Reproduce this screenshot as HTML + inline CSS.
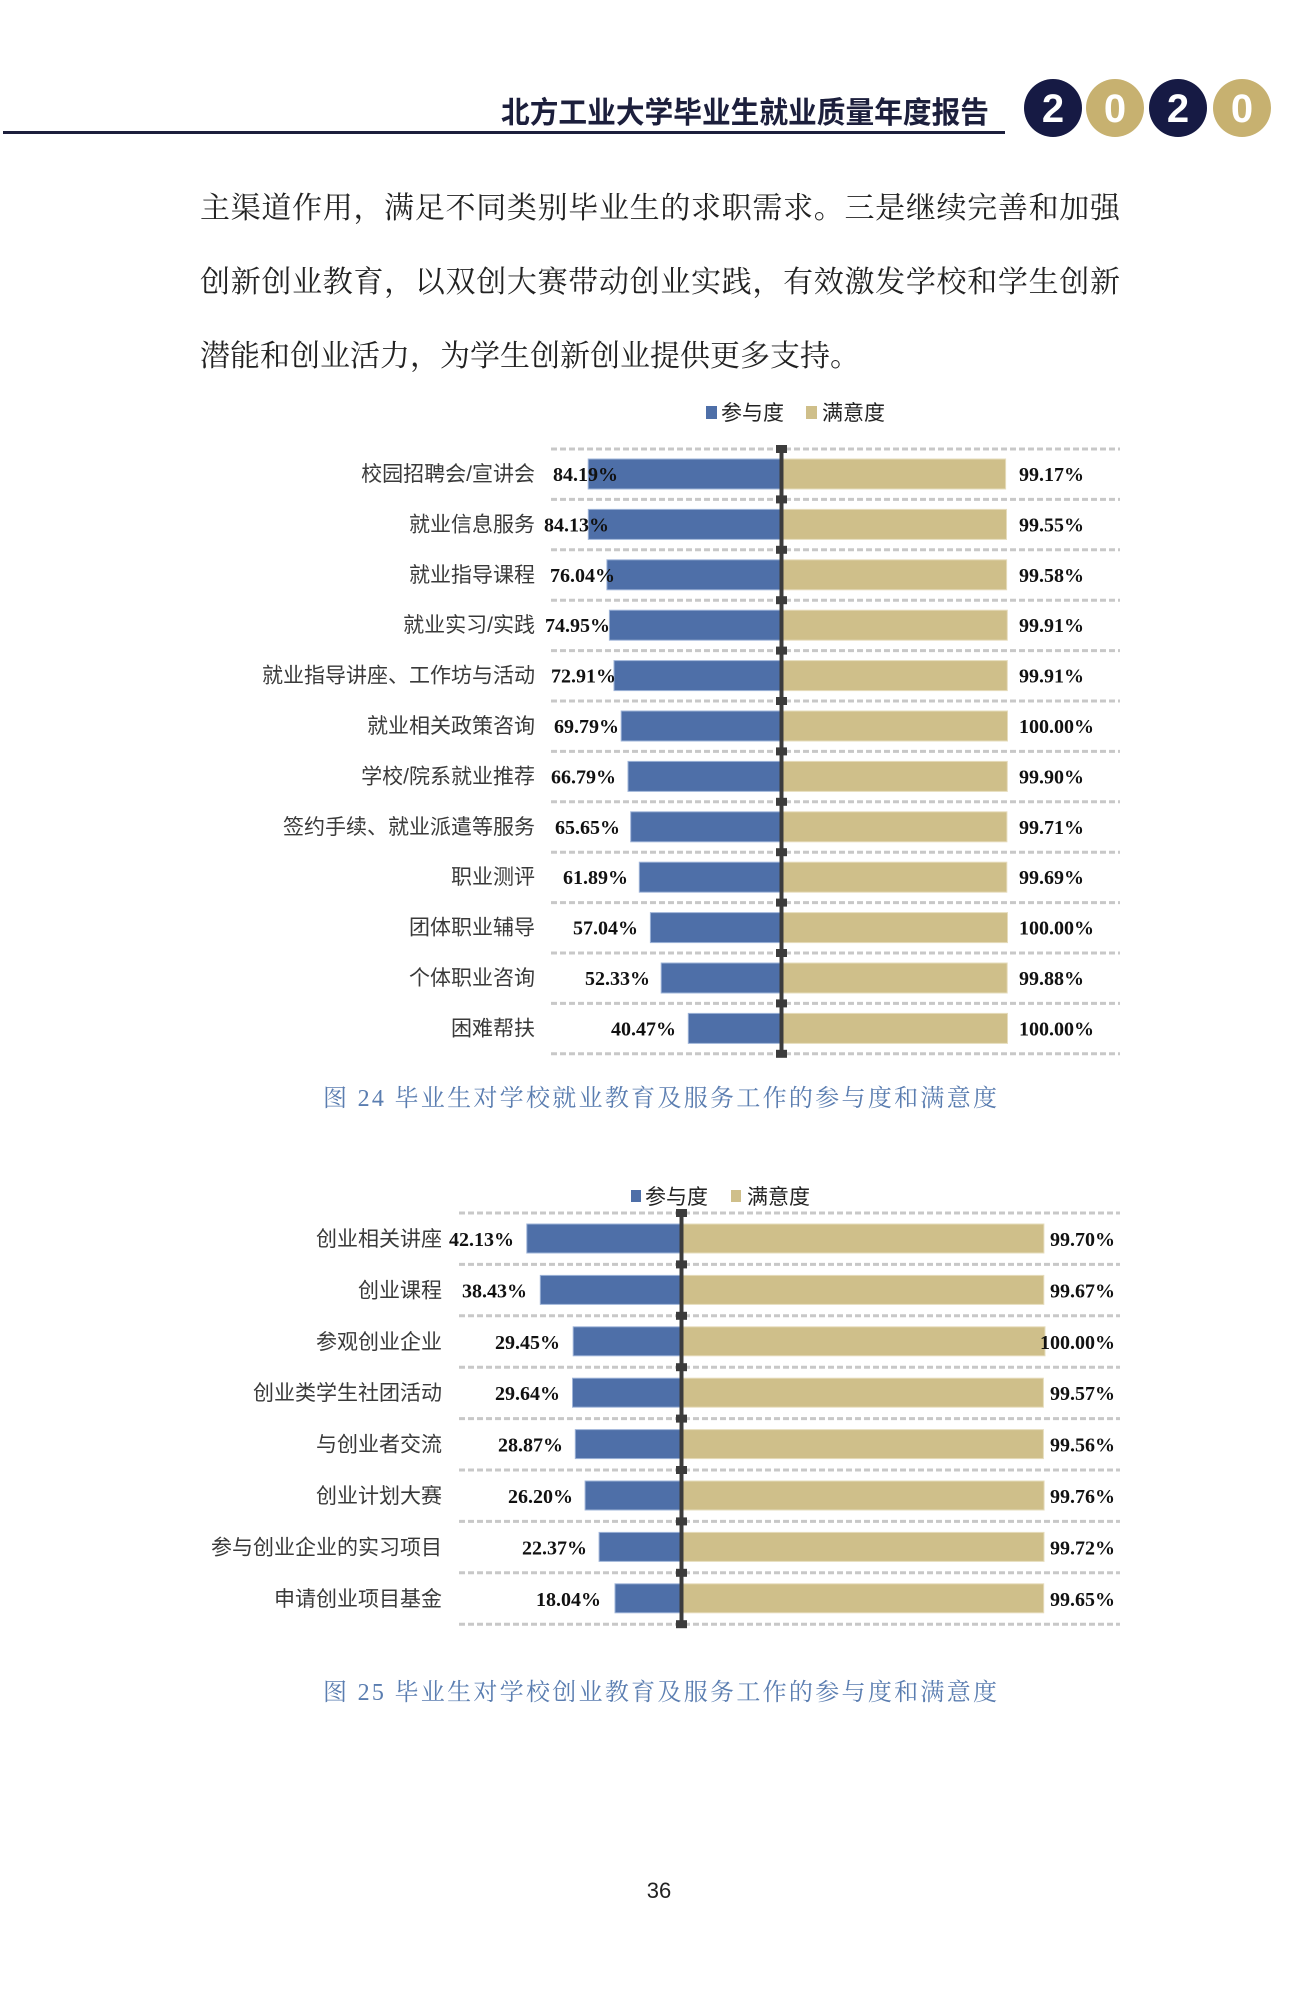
<!DOCTYPE html>
<html><head><meta charset="utf-8"><style>
html,body{margin:0;padding:0;background:#fff;}
svg{display:block;}
.cat{font-family:"Liberation Sans","Noto Sans CJK SC",sans-serif;font-size:21px;fill:#3a3a3a;}
.val{font-family:"Liberation Serif",serif;font-weight:bold;font-size:20px;fill:#111;}
.p{font-family:"Liberation Serif","Noto Serif CJK SC",serif;font-size:30px;fill:#222;}
.lg{font-family:"Liberation Sans","Noto Sans CJK SC",sans-serif;font-size:21px;fill:#222;}
.cap{font-family:"Liberation Serif","Noto Serif CJK SC",serif;font-size:24px;fill:#5a7db0;}
.dash{stroke:#c8c8c8;stroke-width:3;stroke-dasharray:6,3;}
</style></head><body>
<svg width="1307" height="2000" viewBox="0 0 1307 2000" xmlns="http://www.w3.org/2000/svg">
<text x="989" y="123" text-anchor="end" textLength="488" lengthAdjust="spacingAndGlyphs" style="font-family:'Liberation Sans','Noto Sans CJK SC',sans-serif;font-size:30px;font-weight:bold;fill:#1c1f3c">北方工业大学毕业生就业质量年度报告</text>
<rect x="3" y="131" width="1002" height="3" fill="#1c1f3c"/>
<circle cx="1053" cy="108" r="29" fill="#161a44"/>
<circle cx="1115" cy="108" r="29" fill="#c7b170"/>
<circle cx="1178" cy="108" r="29" fill="#161a44"/>
<circle cx="1242" cy="108" r="29" fill="#c7b170"/>
<g style="font-family:'Liberation Sans',sans-serif;font-size:40px;font-weight:bold;fill:#fff" text-anchor="middle">
<text x="1053" y="122">2</text><text x="1115" y="122">0</text><text x="1178" y="122">2</text><text x="1242" y="122">0</text></g>
<text class="p" x="200" y="218" textLength="920" lengthAdjust="spacing">主渠道作用，满足不同类别毕业生的求职需求。三是继续完善和加强</text>
<text class="p" x="200" y="292" textLength="920" lengthAdjust="spacing">创新创业教育，以双创大赛带动创业实践，有效激发学校和学生创新</text>
<text class="p" x="200" y="366" textLength="660" lengthAdjust="spacing">潜能和创业活力，为学生创新创业提供更多支持。</text>

<rect x="706" y="406" width="11" height="13" fill="#4e6fa8"/>
<text class="lg" x="721" y="420">参与度</text>
<rect x="806" y="406" width="11" height="13" fill="#cfbf8a"/>
<text class="lg" x="822" y="420">满意度</text>
<g class="dash">
<line x1="551" y1="449" x2="1120" y2="449"/><line x1="551" y1="499.4" x2="1120" y2="499.4"/><line x1="551" y1="549.8" x2="1120" y2="549.8"/><line x1="551" y1="600.2" x2="1120" y2="600.2"/><line x1="551" y1="650.6" x2="1120" y2="650.6"/><line x1="551" y1="701" x2="1120" y2="701"/><line x1="551" y1="751.4" x2="1120" y2="751.4"/><line x1="551" y1="801.8" x2="1120" y2="801.8"/><line x1="551" y1="852.2" x2="1120" y2="852.2"/><line x1="551" y1="902.6" x2="1120" y2="902.6"/><line x1="551" y1="953" x2="1120" y2="953"/><line x1="551" y1="1003.4" x2="1120" y2="1003.4"/><line x1="551" y1="1053.8" x2="1120" y2="1053.8"/>
</g>
<g fill="#4e6fa8" stroke="#9fb4d8" stroke-width="1">
<rect x="588.2" y="459" width="192.8" height="30"/><rect x="588.3" y="509.4" width="192.7" height="30"/><rect x="606.9" y="559.8" width="174.1" height="30"/><rect x="609.4" y="610.2" width="171.6" height="30"/><rect x="614" y="660.6" width="167" height="30"/><rect x="621.2" y="711" width="159.8" height="30"/><rect x="628" y="761.4" width="153" height="30"/><rect x="630.7" y="811.8" width="150.3" height="30"/><rect x="639.3" y="862.2" width="141.7" height="30"/><rect x="650.4" y="912.6" width="130.6" height="30"/><rect x="661.2" y="963" width="119.8" height="30"/><rect x="688.3" y="1013.4" width="92.7" height="30"/>
</g>
<g fill="#cfbf8a" stroke="#e6dcbc" stroke-width="1">
<rect x="783" y="459" width="222.6" height="30"/><rect x="783" y="509.4" width="223.5" height="30"/><rect x="783" y="559.8" width="223.6" height="30"/><rect x="783" y="610.2" width="224.3" height="30"/><rect x="783" y="660.6" width="224.3" height="30"/><rect x="783" y="711" width="224.5" height="30"/><rect x="783" y="761.4" width="224.3" height="30"/><rect x="783" y="811.8" width="223.9" height="30"/><rect x="783" y="862.2" width="223.8" height="30"/><rect x="783" y="912.6" width="224.5" height="30"/><rect x="783" y="963" width="224.2" height="30"/><rect x="783" y="1013.4" width="224.5" height="30"/>
</g>
<rect x="779.5" y="449" width="4" height="605" fill="#3c3c3c"/>
<g fill="#3c3c3c">
<rect x="776" y="445" width="11" height="8"/><rect x="776" y="495.4" width="11" height="8"/><rect x="776" y="545.8" width="11" height="8"/><rect x="776" y="596.2" width="11" height="8"/><rect x="776" y="646.6" width="11" height="8"/><rect x="776" y="697" width="11" height="8"/><rect x="776" y="747.4" width="11" height="8"/><rect x="776" y="797.8" width="11" height="8"/><rect x="776" y="848.2" width="11" height="8"/><rect x="776" y="898.6" width="11" height="8"/><rect x="776" y="949" width="11" height="8"/><rect x="776" y="999.4" width="11" height="8"/><rect x="776" y="1049.8" width="11" height="8"/>
</g>
<g class="cat" text-anchor="end">
<text x="535" y="481">校园招聘会/宣讲会</text><text x="535" y="531.4">就业信息服务</text><text x="535" y="581.8">就业指导课程</text><text x="535" y="632.2">就业实习/实践</text><text x="535" y="682.6">就业指导讲座、工作坊与活动</text><text x="535" y="733">就业相关政策咨询</text><text x="535" y="783.4">学校/院系就业推荐</text><text x="535" y="833.8">签约手续、就业派遣等服务</text><text x="535" y="884.2">职业测评</text><text x="535" y="934.6">团体职业辅导</text><text x="535" y="985">个体职业咨询</text><text x="535" y="1035.4">困难帮扶</text>
</g>
<g class="val" text-anchor="end">
<text x="618" y="481">84.19%</text><text x="609" y="531.4">84.13%</text><text x="615" y="581.8">76.04%</text><text x="610" y="632.2">74.95%</text><text x="616" y="682.6">72.91%</text><text x="619" y="733">69.79%</text><text x="616" y="783.4">66.79%</text><text x="620" y="833.8">65.65%</text><text x="628" y="884.2">61.89%</text><text x="638" y="934.6">57.04%</text><text x="650" y="985">52.33%</text><text x="676" y="1035.4">40.47%</text>
</g>
<g class="val">
<text x="1019" y="481">99.17%</text><text x="1019" y="531.4">99.55%</text><text x="1019" y="581.8">99.58%</text><text x="1019" y="632.2">99.91%</text><text x="1019" y="682.6">99.91%</text><text x="1019" y="733">100.00%</text><text x="1019" y="783.4">99.90%</text><text x="1019" y="833.8">99.71%</text><text x="1019" y="884.2">99.69%</text><text x="1019" y="934.6">100.00%</text><text x="1019" y="985">99.88%</text><text x="1019" y="1035.4">100.00%</text>
</g>
<text class="cap" x="323" y="1106" textLength="674" lengthAdjust="spacing">图 24 毕业生对学校就业教育及服务工作的参与度和满意度</text>

<rect x="631" y="1190" width="10" height="12" fill="#4e6fa8"/>
<text class="lg" x="645" y="1204">参与度</text>
<rect x="731" y="1190" width="10" height="12" fill="#cfbf8a"/>
<text class="lg" x="747" y="1204">满意度</text>
<g class="dash">
<line x1="459" y1="1213" x2="1120" y2="1213"/><line x1="459" y1="1264.4" x2="1120" y2="1264.4"/><line x1="459" y1="1315.8" x2="1120" y2="1315.8"/><line x1="459" y1="1367.2" x2="1120" y2="1367.2"/><line x1="459" y1="1418.6" x2="1120" y2="1418.6"/><line x1="459" y1="1470" x2="1120" y2="1470"/><line x1="459" y1="1521.4" x2="1120" y2="1521.4"/><line x1="459" y1="1572.8" x2="1120" y2="1572.8"/><line x1="459" y1="1624.2" x2="1120" y2="1624.2"/>
</g>
<g fill="#4e6fa8" stroke="#9fb4d8" stroke-width="1">
<rect x="526.8" y="1224" width="154.2" height="29"/><rect x="540.3" y="1275.4" width="140.7" height="29"/><rect x="573.2" y="1326.8" width="107.8" height="29"/><rect x="572.5" y="1378.2" width="108.5" height="29"/><rect x="575.3" y="1429.6" width="105.7" height="29"/><rect x="585.1" y="1481" width="95.9" height="29"/><rect x="599.1" y="1532.4" width="81.9" height="29"/><rect x="615" y="1583.8" width="66" height="29"/>
</g>
<g fill="#cfbf8a" stroke="#e6dcbc" stroke-width="1">
<rect x="683" y="1224" width="360.9" height="29"/><rect x="683" y="1275.4" width="360.8" height="29"/><rect x="683" y="1326.8" width="362" height="29"/><rect x="683" y="1378.2" width="360.4" height="29"/><rect x="683" y="1429.6" width="360.4" height="29"/><rect x="683" y="1481" width="361.1" height="29"/><rect x="683" y="1532.4" width="361" height="29"/><rect x="683" y="1583.8" width="360.7" height="29"/>
</g>
<rect x="679.5" y="1213" width="4" height="411" fill="#3c3c3c"/>
<g fill="#3c3c3c">
<rect x="676" y="1209" width="11" height="8"/><rect x="676" y="1260.4" width="11" height="8"/><rect x="676" y="1311.8" width="11" height="8"/><rect x="676" y="1363.2" width="11" height="8"/><rect x="676" y="1414.6" width="11" height="8"/><rect x="676" y="1466" width="11" height="8"/><rect x="676" y="1517.4" width="11" height="8"/><rect x="676" y="1568.8" width="11" height="8"/><rect x="676" y="1620.2" width="11" height="8"/>
</g>
<g class="cat" text-anchor="end">
<text x="442" y="1246">创业相关讲座</text><text x="442" y="1297.4">创业课程</text><text x="442" y="1348.8">参观创业企业</text><text x="442" y="1400.2">创业类学生社团活动</text><text x="442" y="1451.6">与创业者交流</text><text x="442" y="1503">创业计划大赛</text><text x="442" y="1554.4">参与创业企业的实习项目</text><text x="442" y="1605.8">申请创业项目基金</text>
</g>
<g class="val" text-anchor="end">
<text x="514" y="1246">42.13%</text><text x="527" y="1297.4">38.43%</text><text x="560" y="1348.8">29.45%</text><text x="560" y="1400.2">29.64%</text><text x="563" y="1451.6">28.87%</text><text x="573" y="1503">26.20%</text><text x="587" y="1554.4">22.37%</text><text x="601" y="1605.8">18.04%</text>
</g>
<g class="val" text-anchor="end">
<text x="1115" y="1246">99.70%</text><text x="1115" y="1297.4">99.67%</text><text x="1115" y="1348.8">100.00%</text><text x="1115" y="1400.2">99.57%</text><text x="1115" y="1451.6">99.56%</text><text x="1115" y="1503">99.76%</text><text x="1115" y="1554.4">99.72%</text><text x="1115" y="1605.8">99.65%</text>
</g>
<text class="cap" x="323" y="1700" textLength="674" lengthAdjust="spacing">图 25 毕业生对学校创业教育及服务工作的参与度和满意度</text>

<text x="659" y="1898" text-anchor="middle" style="font-family:'Liberation Sans',sans-serif;font-size:22px;fill:#222">36</text>
</svg>
</body></html>
